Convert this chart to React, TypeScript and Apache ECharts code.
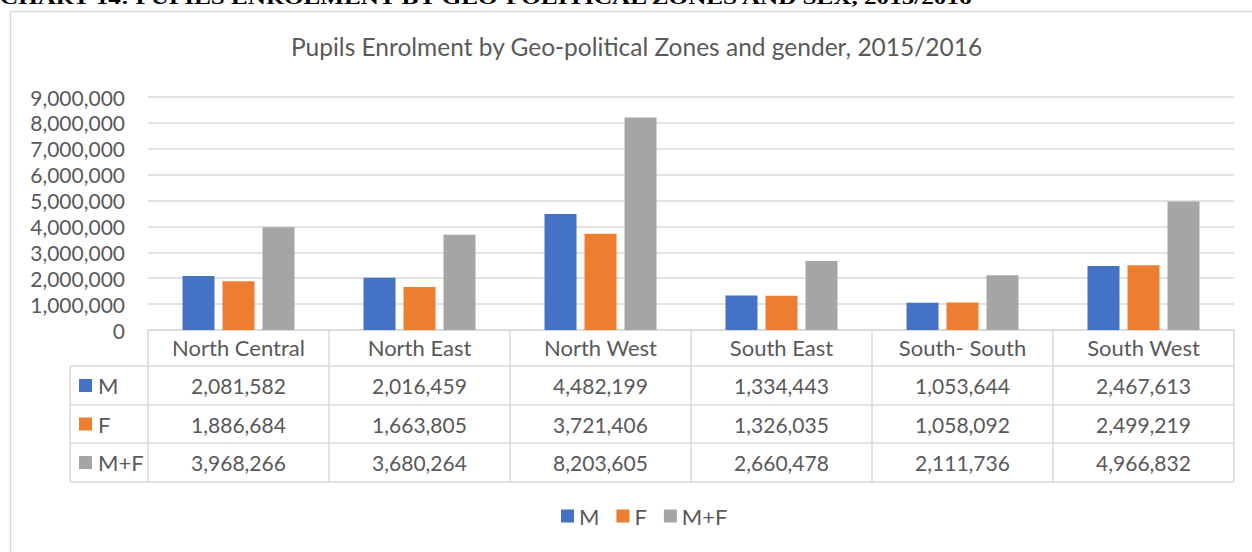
import React, { useEffect, useRef } from "react";
import * as echarts from "echarts";

const categories = ["North Central", "North East", "North West", "South East", "South- South", "South West"];
const seriesNames = ["M", "F", "M+F"];
const male = [2081582, 2016459, 4482199, 1334443, 1053644, 2467613];
const female = [1886684, 1663805, 3721406, 1326035, 1058092, 2499219];
const total = [3968266, 3680264, 8203605, 2660478, 2111736, 4966832];
const yMax = 9000000;
const yInterval = 1000000;

const headerText = "CHART 14: PUPILS ENROLMENT BY GEO-POLITICAL ZONES AND SEX, 2015/2016";
const titleText = "Pupils Enrolment by Geo-political Zones and gender, 2015/2016";

const COLORS = ["#4472C4", "#ED7D31", "#A5A5A5"];
const TEXT = "#595959";
const LINE = "#d9d9d9";
const FONT = "Lato";

const W = 1252;
const H = 552;
const PLOT_L = 148;
const PLOT_R = 1234;
const PLOT_T = 97;
const PLOT_B = 330;
const ROW_EDGES = [330, 366, 405, 443, 482];
const TABLE_L = 70;

const fmt = (v: number) => v.toLocaleString("en-US");

function measure(text: string, font: string): number {
  const c = document.createElement("canvas");
  const ctx = c.getContext("2d");
  if (!ctx) return 0;
  ctx.font = font;
  return ctx.measureText(text).width;
}

export default function App() {
  const ref = useRef<HTMLDivElement>(null);
  useEffect(() => {
    if (!ref.current) return;
    const chart = echarts.init(ref.current, undefined, { renderer: "svg" });
    const data = [male, female, total];
    const catW = (PLOT_R - PLOT_L) / categories.length;

    const graphics: any[] = [];
    graphics.push({
      type: "rect",
      shape: { x: 10.5, y: 11.5, width: 1300, height: 600 },
      style: { fill: "none", stroke: LINE, lineWidth: 1.5 },
      silent: true,
    });
    const hFont = "bold 19px 'Liberation Serif'";
    const hw = measure(headerText, hFont) || 900;
    graphics.push({
      type: "text",
      x: 0,
      y: 7,
      scaleX: 977 / hw,
      style: {
        text: headerText,
        font: hFont,
        fill: "#000",
        textAlign: "left",
        textVerticalAlign: "bottom",
      },
      silent: true,
    });
    const hLine = (x1: number, x2: number, y: number) =>
      graphics.push({
        type: "line",
        shape: { x1, y1: y, x2, y2: y },
        style: { stroke: LINE, lineWidth: 1.5 },
        silent: true,
      });
    const vLine = (x: number, y1: number, y2: number) =>
      graphics.push({
        type: "line",
        shape: { x1: x, y1, x2: x, y2 },
        style: { stroke: LINE, lineWidth: 1.5 },
        silent: true,
      });
    for (let r = 1; r < ROW_EDGES.length; r++) hLine(TABLE_L, PLOT_R, ROW_EDGES[r]);
    vLine(TABLE_L, ROW_EDGES[1], ROW_EDGES[ROW_EDGES.length - 1]);
    for (let i = 0; i <= categories.length; i++) {
      vLine(PLOT_L + i * catW, ROW_EDGES[0], ROW_EDGES[ROW_EDGES.length - 1]);
    }
    for (let s = 0; s < seriesNames.length; s++) {
      const yc = (ROW_EDGES[s + 1] + ROW_EDGES[s + 2]) / 2;
      graphics.push({
        type: "rect",
        shape: { x: 79, y: yc - 6.5, width: 13, height: 13 },
        style: { fill: COLORS[s] },
        silent: true,
      });
      graphics.push({
        type: "text",
        x: 98,
        y: yc,
        style: {
          text: seriesNames[s],
          font: `22px ${FONT}`,
          fill: TEXT,
          textAlign: "left",
          textVerticalAlign: "middle",
        },
        silent: true,
      });
      for (let i = 0; i < categories.length; i++) {
        graphics.push({
          type: "text",
          x: PLOT_L + (i + 0.5) * catW,
          y: yc,
          style: {
            text: fmt(data[s][i]),
            font: `21px ${FONT}`,
            fill: TEXT,
            textAlign: "center",
            textVerticalAlign: "middle",
          },
          silent: true,
        });
      }
    }

    chart.setOption({
      animation: false,
      backgroundColor: "#fff",
      color: COLORS,
      title: {
        text: titleText,
        left: 291,
        top: 34,
        padding: 0,
        textStyle: { fontFamily: FONT, fontSize: 24.5, fontWeight: "normal", color: TEXT },
      },
      legend: {
        data: seriesNames,
        left: 561,
        top: 505,
        padding: 0,
        icon: "rect",
        itemWidth: 13,
        itemHeight: 13,
        itemGap: 17,
        textStyle: { fontFamily: FONT, fontSize: 22, color: TEXT },
      },
      grid: {
        left: PLOT_L,
        right: W - PLOT_R,
        top: PLOT_T,
        bottom: H - PLOT_B,
        containLabel: false,
      },
      xAxis: {
        type: "category",
        data: categories,
        axisLine: { show: true, lineStyle: { color: LINE, width: 1.5 } },
        axisTick: { show: false },
        axisLabel: { fontFamily: FONT, fontSize: 22, color: TEXT, margin: 6 },
      },
      yAxis: {
        type: "value",
        min: 0,
        max: yMax,
        interval: yInterval,
        axisLine: { show: false },
        axisTick: { show: false },
        splitLine: { lineStyle: { color: LINE, width: 1.5 } },
        axisLabel: {
          fontFamily: FONT,
          fontSize: 21,
          color: TEXT,
          margin: 23,
          formatter: (v: number) => fmt(v),
        },
      },
      series: seriesNames.map((name, s) => ({
        name,
        type: "bar",
        data: data[s],
        barWidth: 32,
        barGap: "25%",
        itemStyle: { color: COLORS[s] },
      })),
      graphic: graphics,
    });
    return () => chart.dispose();
  }, []);
  return (
    <div
      ref={ref}
      style={{ position: "fixed", left: 0, top: 0, width: W, height: H, background: "#fff" }}
    />
  );
}
